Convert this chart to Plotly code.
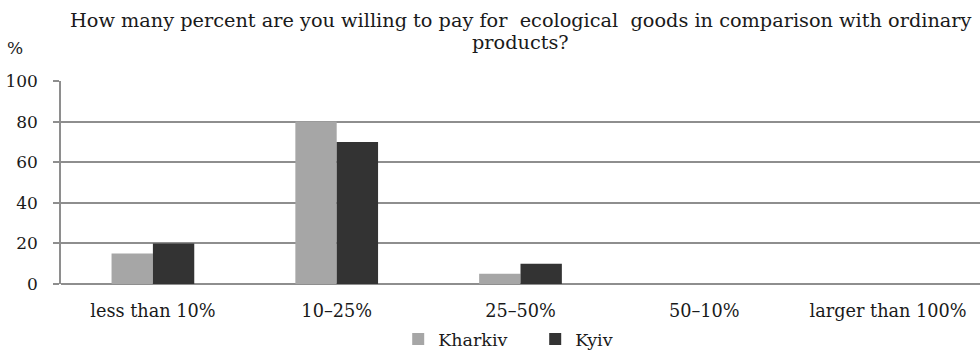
import plotly.graph_objects as go

categories = ["less than 10%", "10–25%", "25–50%", "50–10%", "larger than 100%"]
kharkiv = [15, 80, 5, 0, 0]
kyiv = [20, 70, 10, 0, 0]
y_ticks = [0, 20, 40, 60, 80, 100]
title_lines = [
    "How many percent are you willing to pay for  ecological  goods in comparison with ordinary",
    "products?",
]

FONT = "DejaVu Serif"
INK = "#1a1a1a"
GRID = "#8e8e8e"

fig = go.Figure()
fig.add_trace(go.Bar(name="Kharkiv", x=categories, y=kharkiv, marker_color="#a6a6a6",
                     marker_line_width=0))
fig.add_trace(go.Bar(name="Kyiv", x=categories, y=kyiv, marker_color="#333333",
                     marker_line_width=0))

annotations = [
    dict(text=title_lines[0], x=0.5, y=1.30),
    dict(text=title_lines[1], x=0.5, y=1.192),
]
for a in annotations:
    a.update(xref="paper", yref="paper", xanchor="center", yanchor="middle",
             showarrow=False, font=dict(family=FONT, size=19.3, color=INK))
annotations.append(dict(text="%", xref="paper", yref="paper", x=-0.05, y=1.163,
                        xanchor="center", yanchor="middle", showarrow=False,
                        font=dict(family=FONT, size=17, color=INK)))

fig.update_layout(
    width=980, height=353,
    margin=dict(l=61, r=0, t=81, b=69, autoexpand=False),
    paper_bgcolor="white", plot_bgcolor="white",
    barmode="group", bargap=0.55, bargroupgap=0,
    font=dict(family=FONT, size=17, color=INK),
    showlegend=True,
    legend=dict(orientation="h", x=0.516, xanchor="center", y=-0.272, yanchor="middle",
                font=dict(size=17.5), itemwidth=30, entrywidth=92, traceorder="normal"),
    xaxis=dict(showgrid=False, showline=False, ticks="", ticklabelstandoff=14,
               automargin=False, tickfont=dict(size=17.7)),
    yaxis=dict(range=[0, 100], tickvals=y_ticks, showgrid=True, gridcolor=GRID, gridwidth=1.5,
               zeroline=True, zerolinecolor=GRID, zerolinewidth=1.5,
               showline=True, linecolor=GRID, linewidth=1.5,
               ticks="outside", ticklen=6, tickcolor=GRID, tickwidth=1.5,
               automargin=False, ticklabelstandoff=12, tickfont=dict(size=17)),
    annotations=annotations,
)

fig.write_html("out.html")
